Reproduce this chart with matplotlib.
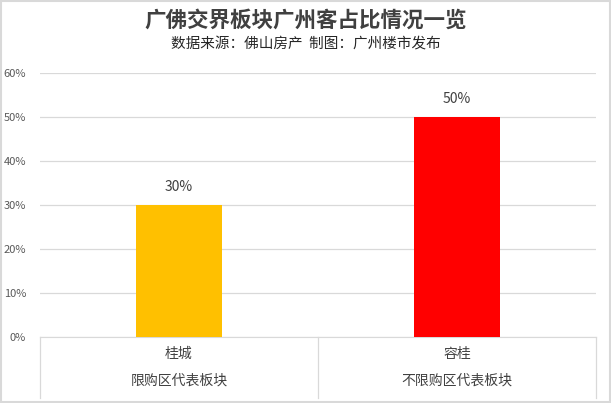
import matplotlib
matplotlib.use("Agg")
import matplotlib.pyplot as plt
from matplotlib.lines import Line2D
from matplotlib.ticker import FuncFormatter

plt.rcParams['font.family'] = ['Noto Sans CJK SC', 'DejaVu Sans']

categories = ["桂城", "容桂"]
groups = ["限购区代表板块", "不限购区代表板块"]
values = [0.30, 0.50]
colors = ["#FFC000", "#FF0000"]
yticks = [0, 0.1, 0.2, 0.3, 0.4, 0.5, 0.6]
title = "广佛交界板块广州客占比情况一览"
subtitle = "数据来源：佛山房产  制图：广州楼市发布"

W, H = 611, 403
fig = plt.figure(figsize=(W/100, H/100), dpi=100)
ax = fig.add_axes([40/W, 1-337/H, (596-40)/W, (337-73)/H])

x = list(range(len(categories)))
ax.bar(x, values, width=0.31, color=colors, zorder=3)
ax.set_xlim(-0.5, len(categories)-0.5)
ax.set_ylim(0, 0.6)
ax.set_yticks(yticks)
ax.yaxis.set_major_formatter(FuncFormatter(lambda v, p: f"{v*100:.0f}%"))
ax.grid(axis='y', color='#D9D9D9', linewidth=0.9, zorder=0)
for s in ['top', 'right', 'left']:
    ax.spines[s].set_visible(False)
ax.spines['bottom'].set_color('#D9D9D9')
ax.tick_params(axis='y', length=0, labelsize=8, labelcolor='#595959', pad=10)
ax.tick_params(axis='x', length=0)
ax.set_xticks([])

for xi, v in zip(x, values):
    ax.text(xi, v + 0.025, f"{v*100:.0f}%", ha='center', va='bottom',
            fontsize=10, color='#404040')

# multi-level category box
for px in [40, 318, 596]:
    fig.add_artist(Line2D([px/W, px/W], [1-337/H, 1-398/H], color='#D9D9D9', lw=0.9))
for xi, c, g in zip(x, categories, groups):
    cx = (40 + (xi + 0.5) * 278) / W
    fig.text(cx, 1-354/H, c, ha='center', va='center', fontsize=10, color='#404040')
    fig.text(cx, 1-381/H, g, ha='center', va='center', fontsize=10, color='#404040')

fig.text(0.5, 1-20/H, title, ha='center', va='center', fontsize=15.5,
         fontweight='bold', color='#404040')
fig.text(0.5, 1-45/H, subtitle, ha='center', va='center', fontsize=10.5, color='#262626')

# outer border
fig.add_artist(plt.Rectangle((0.002, 0.003), 0.996, 0.994, transform=fig.transFigure,
                             fill=False, edgecolor='#D9D9D9', lw=1.5))

fig.savefig("out.png", dpi=100)
